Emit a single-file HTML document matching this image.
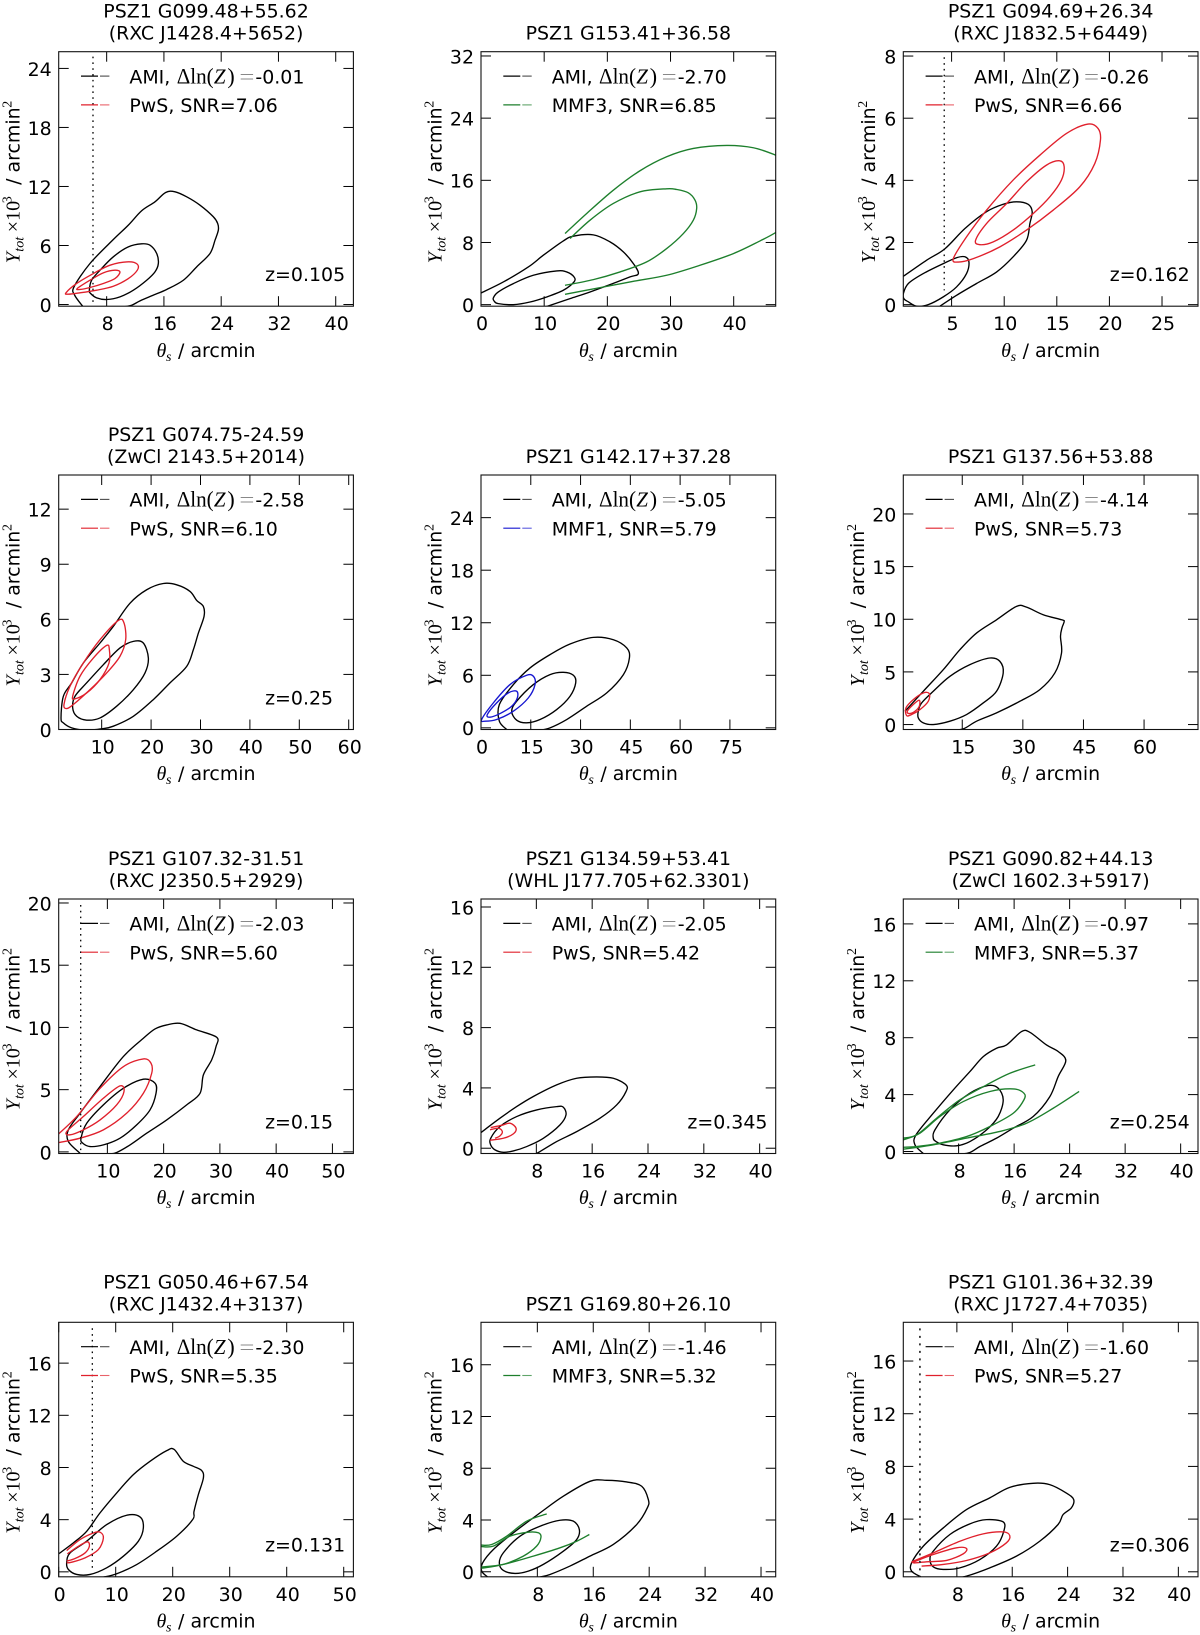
<!DOCTYPE html>
<html lang="en">
<head>
<meta charset="utf-8">
<title>PSZ1 cluster parameter constraints</title>
<style>
html,body{margin:0;padding:0;background:#fff}
svg{display:block}
text{font-family:"DejaVu Sans","Liberation Sans",sans-serif;fill:#000;font-size:18.95px}
.m{font-family:"Liberation Serif","DejaVu Serif",serif}
</style>
</head>
<body>
<svg id="figure" xmlns="http://www.w3.org/2000/svg" width="1200" height="1635" viewBox="0 0 1200 1635"></svg>
<script>
// ---- labels ----
const titles=["PSZ1 G099.48+55.62","PSZ1 G153.41+36.58","PSZ1 G094.69+26.34","PSZ1 G074.75-24.59","PSZ1 G142.17+37.28","PSZ1 G137.56+53.88","PSZ1 G107.32-31.51","PSZ1 G134.59+53.41","PSZ1 G090.82+44.13","PSZ1 G050.46+67.54","PSZ1 G169.80+26.10","PSZ1 G101.36+32.39"];
const subtitles=["(RXC J1428.4+5652)","","(RXC J1832.5+6449)","(ZwCl 2143.5+2014)","","","(RXC J2350.5+2929)","(WHL J177.705+62.3301)","(ZwCl 1602.3+5917)","(RXC J1432.4+3137)","","(RXC J1727.4+7035)"];
const evidence=["-0.01","-2.70","-0.26","-2.58","-5.05","-4.14","-2.03","-2.05","-0.97","-2.30","-1.46","-1.60"];
const methods=["PwS","MMF3","PwS","PwS","MMF1","PwS","PwS","PwS","MMF3","PwS","MMF3","PwS"];
const snr=["7.06","6.85","6.66","6.10","5.79","5.73","5.60","5.42","5.37","5.35","5.32","5.27"];
const redshifts=["0.105","","0.162","0.25","","","0.15","0.345","0.254","0.131","","0.306"];
// ---- axis domains and ticks ----
const xDomains=[[1.3,42.47],[0,46.65],[0.41,28.42],[1.3,60.95],[0,88.8],[0.41,73.35],[1.35,53.73],[0.07,42.3],[0.03,42.5],[0,51.7],[-0.06,42.1],[0.26,42.84]];
const yDomains=[[-0.17,25.7],[-0.2,32.55],[-0.05,8.14],[0,13.86],[-0.19,28.87],[-0.47,23.7],[-0.13,20.32],[-0.35,16.53],[-0.14,17.75],[-0.38,19.13],[-0.39,19.28],[-0.38,18.94]];
const xTicks=[[8,16,24,32,40],[0,10,20,30,40],[5,10,15,20,25],[10,20,30,40,50,60],[0,15,30,45,60,75],[15,30,45,60],[10,20,30,40,50],[8,16,24,32,40],[8,16,24,32,40],[0,10,20,30,40,50],[8,16,24,32,40],[8,16,24,32,40]];
const yTicks=[[0,6,12,18,24],[0,8,16,24,32],[0,2,4,6,8],[0,3,6,9,12],[0,6,12,18,24],[0,5,10,15,20],[0,5,10,15,20],[0,4,8,12,16],[0,4,8,12,16],[0,4,8,12,16],[0,4,8,12,16],[0,4,8,12,16]];
// ---- dotted reference lines: theta value, top, bottom (null = none) ----
const dotTheta=[6.09,null,4.3,null,null,null,5.26,null,null,5.9,null,2.66];
const dotTop=[25.2,null,7.96,null,null,null,19.84,null,null,18.67,null,18.48];
const dotBottom=[-0.17,null,0.46,null,null,null,-0.13,null,null,0.05,null,-0.38];
// ---- contours [theta, Y] ----
const p1AmiOuter=[[4.65,-0.17],[3.53,0.95],[3.44,1.8],[5.67,4.17],[8.93,6.61],[11.03,8.07],[12.89,9.53],[14.75,10.44],[16.24,11.39],[17.55,11.46],[19.18,10.95],[21.04,10.1],[22.9,8.92],[23.51,8.24],[23.6,7.56],[23.14,6.54],[22.44,5.19],[20.58,3.83],[18.71,2.47],[16.38,1.53],[14.52,0.95],[12.66,0.37],[11.49,-0.07],[10.33,-0.24]];
const p1AmiInner=[[5.58,1.46],[5.9,2.47],[7.07,3.49],[8.93,4.85],[11.03,5.86],[12.89,6.17],[14.05,6.03],[14.99,5.19],[15.22,4.17],[14.75,3.32],[13.59,2.47],[11.73,1.46],[9.86,0.78],[8,0.51],[6.6,0.68],[5.76,1.12]];
const p1SzOuter=[[2.32,1.19],[3.81,2.14],[6.14,3.15],[8.47,4],[11.03,4.34],[12.28,4.1],[12.28,3.49],[11.03,2.64],[8.93,1.86],[6.6,1.46],[4.27,1.19],[2.64,1.05]];
const p1SzInner=[[3.9,1.63],[5.67,2.47],[7.53,3.22],[9.16,3.49],[9.86,3.29],[9.16,2.64],[7.53,2.14],[5.67,1.73],[4.27,1.53]];
const p2AmiOuter=[[0,1.5],[3.54,2.92],[7.49,4.85],[9.87,6.36],[13.03,8.2],[14.62,8.81],[17.78,8.98],[20.42,8.08],[22.53,6.79],[24.12,5.28],[24.91,3.99],[23.59,3.57],[20.42,2.58],[17.26,1.63],[14.09,0.77],[10.92,-0.09],[9.34,-0.52]];
const p2AmiInner=[[1.95,0.86],[2.74,1.63],[5.12,2.71],[8.28,3.78],[11.98,4.34],[13.56,4.21],[14.72,3.57],[14.72,2.92],[13.03,1.85],[10.4,0.99],[7.76,0.34],[5.12,0],[2.74,0.13],[2.11,0.43]];
const p2SzOuterTop=[[13.3,9.15],[16.73,11.73],[20.95,14.73],[25.17,17.23],[29.39,19.03],[33.61,20.1],[38.89,20.49],[43.11,20.19],[46.65,19.24],[47.86,18.69]];
const p2SzOuterLow=[[13.3,1.33],[18.84,2.19],[24.12,3],[29.39,3.78],[34.67,5.07],[39.95,6.57],[44.17,8.2],[46.65,9.28],[47.86,10.01]];
const p2SzInner=[[14.09,8.51],[17.26,10.87],[20.95,13.02],[25.17,14.52],[29.39,14.91],[30.98,14.82],[32.82,14.39],[33.88,13.45],[34.14,12.37],[33.61,10.87],[32.03,9.15],[29.39,7.22],[26.23,5.5],[22.01,4.21],[17.78,3.22],[13.3,2.49]];
const p3AmiOuter=[[0.41,0.91],[2.63,1.43],[4.37,1.8],[6.27,2.45],[8.32,2.99],[9.91,3.23],[11.17,3.31],[12.28,3.23],[12.66,2.99],[12.44,2.61],[12.12,2.07],[10.85,1.54],[9.27,1.05],[7.37,0.68],[5.47,0.3],[3.89,-0.05]];
const p3AmiInner=[[0.41,0.35],[0.89,0.68],[2.31,1],[4.21,1.32],[5.47,1.51],[6.27,1.54],[6.65,1.37],[6.42,1],[5.47,0.57],[4.21,0.25],[2.78,0],[1.68,-0.05],[0.89,0.09],[0.47,0.19]];
const p3SzOuter=[[5.16,1.48],[6.42,2.18],[8.32,3.04],[10.85,4.01],[13.39,4.81],[15.92,5.51],[17.97,5.81],[18.92,5.67],[19.15,5.3],[18.61,4.54],[17.18,3.79],[14.65,3.04],[12.12,2.4],[9.59,1.86],[7.06,1.48],[5.63,1.37]];
const p3SzInner=[[7.28,2.07],[8.32,2.61],[10.22,3.25],[12.12,3.95],[14.02,4.49],[15.28,4.63],[15.7,4.44],[15.44,4.01],[14.34,3.47],[12.75,2.93],[10.85,2.4],[8.96,2.02],[7.69,1.93]];
const p4AmiOuter=[[1.77,0.63],[2.24,1.81],[3.93,2.54],[6.29,3.62],[9.66,4.71],[12.36,5.62],[15.74,6.88],[19.11,7.61],[22.48,7.95],[25.18,7.88],[27.88,7.52],[29.23,7.03],[30.58,6.7],[30.72,6.16],[29.57,5.25],[28.56,4.35],[27.21,3.44],[23.83,2.54],[20.46,1.63],[16.41,0.72],[12.36,0.18],[10,0.04],[6.96,-0.04],[3.93,0.09],[2.24,0.36]];
const p4AmiInner=[[4.13,1.18],[4.6,1.81],[6.96,2.54],[10.34,3.53],[13.71,4.44],[16.41,4.8],[18.43,4.71],[19.45,3.89],[18.77,3.08],[16.41,2.17],[13.04,1.27],[9.66,0.63],[6.96,0.51],[4.94,0.72]];
const p4SzOuter=[[2.37,1.36],[3.59,2.36],[6.29,3.62],[9.66,4.89],[13.37,5.94],[14.52,5.8],[14.86,4.89],[13.71,3.99],[11.01,3.08],[7.64,2.17],[4.26,1.36],[2.91,1.14]];
const p4SzInner=[[4.13,1.81],[5.61,2.9],[8.31,3.89],[11.01,4.58],[11.55,4.35],[11.48,3.62],[9.66,2.72],[6.96,1.99],[4.6,1.67]];
const p5AmiOuter=[[7.74,-0.19],[5.53,0.76],[5.53,2.66],[9.75,4.94],[14.77,6.84],[20.8,8.36],[26.83,9.57],[33.87,10.33],[39.9,10.06],[43.92,9.12],[44.72,7.98],[42.91,6.08],[37.89,3.99],[31.86,2.47],[25.83,0.95],[20.8,0],[17.79,-0.27]];
const p5AmiInner=[[9.25,1.9],[10.75,3.04],[15.78,4.94],[20.8,6.08],[24.82,6.34],[27.84,6],[28.54,5.13],[26.83,3.61],[22.81,2.09],[17.79,0.95],[13.77,0.57],[10.75,0.87]];
const p5SzOuter=[[0.2,0.95],[3.72,2.85],[8.74,4.94],[13.77,6],[15.78,5.89],[16.28,4.94],[14.27,3.42],[9.75,1.9],[4.72,0.95],[1.21,0.76]];
const p5SzInner=[[1.91,1.52],[4.72,2.85],[8.24,3.99],[10.75,4.18],[10.95,3.42],[9.25,2.47],[5.73,1.63],[2.71,1.22]];
const p6AmiOuter=[[0.82,1.26],[5.35,3.16],[10.3,5.21],[14.42,7.11],[18.54,8.69],[23.49,9.95],[28.44,11.22],[30.91,11.15],[35.03,10.43],[39.6,9.95],[40.23,9.79],[39.7,9.2],[39.32,8.37],[39.57,6.79],[37.92,4.9],[34.21,3.32],[29.26,2.21],[23.49,1.11],[18.54,0.32],[15.25,-0.41],[11.95,-0.54]];
const p6AmiInner=[[4.12,1.26],[4.94,2.05],[7.83,3.16],[11.95,4.58],[16.9,5.69],[21.84,6.32],[24.32,6],[25.14,4.9],[23.49,3.16],[20.19,2.05],[16.07,0.95],[11.95,0.32],[7.83,0],[5.35,0.16],[4.12,0.63]];
const p6SzOuter=[[1.07,1.58],[2.88,2.37],[5.35,3],[6.84,2.94],[6.59,2.21],[4.53,1.42],[2.47,0.95],[1.23,0.85]];
const p6SzInner=[[1.4,1.26],[2.88,1.9],[4.37,2.31],[4.37,1.74],[3.29,1.26],[1.89,1.04]];
const p7AmiOuter=[[5.14,-0.11],[3.07,0.83],[3.07,1.77],[5.14,3.11],[8.7,5.25],[12.84,7.66],[16.4,9.13],[18.47,9.88],[20.55,10.2],[22.91,10.33],[25.88,9.8],[29.43,9.21],[29.31,8.46],[28.54,7.39],[27.06,6.18],[26.47,4.71],[24.1,3.78],[20.55,2.57],[16.99,1.5],[14.03,0.56],[11.66,-0.05],[10.47,-0.16]];
const p7AmiInner=[[5.32,1.1],[6.33,2.3],[9.29,3.78],[12.84,5.11],[16.4,5.84],[18.47,5.52],[18.65,4.71],[17.58,3.37],[15.21,2.17],[12.25,1.1],[9.29,0.56],[6.92,0.43],[5.62,0.7]];
const p7SzOuter=[[1.35,1.45],[4.55,2.84],[8.7,5.11],[12.84,6.85],[16.4,7.47],[17.76,7.12],[17.88,6.32],[16.4,4.71],[13.44,3.11],[9.29,1.77],[5.14,1.1],[1.35,0.75]];
const p7SzInner=[[2.77,1.63],[5.73,2.84],[9.29,4.31],[12.25,5.3],[12.96,4.85],[11.66,3.78],[8.7,2.57],[5.73,1.77],[3.36,1.37]];
const p8AmiOuter=[[0.07,1.04],[2.79,1.99],[5.18,2.76],[7.57,3.43],[10.91,4.2],[13.78,4.64],[16.64,4.73],[19.03,4.64],[20.85,4.2],[20.85,3.76],[19.51,2.87],[17.12,1.99],[13.78,1.1],[10.91,0.44],[8.53,-0.22],[7.57,-0.44]];
const p8AmiInner=[[1.46,0.66],[2.79,1.44],[5.18,2.1],[8.05,2.54],[10.91,2.76],[11.87,2.72],[12.25,2.21],[11.39,1.55],[9,0.66],[6.62,0.11],[4.7,-0.18],[3.27,-0.27],[2.08,-0.11],[1.46,0.22]];
const p8SzOuter=[[1.46,1.37],[3.03,1.52],[4.23,1.66],[5.09,1.33],[4.7,0.95],[3.27,0.66],[1.36,0.53]];
const p8SzInner=[[1.36,1.22],[2.56,1.33],[3.13,1.1],[2.79,0.82],[2.08,0.66]];
const p9AmiOuter=[[2.91,-0.14],[1.71,0.47],[1.86,1.17],[4.35,2.69],[7.23,4.33],[9.63,5.62],[11.55,6.67],[13.47,7.26],[14.91,7.49],[17.07,8.43],[18.27,8.38],[20.67,7.49],[22.35,7.03],[23.45,6.39],[22.35,5.27],[21.15,3.86],[18.75,2.46],[15.87,1.64],[13.47,0.94],[11.07,0.35],[9.63,-0.07],[8.19,-0.19]];
const p9AmiInner=[[4.35,0.94],[4.59,1.52],[6.75,2.93],[9.63,4.1],[12.27,4.64],[13.71,4.45],[14.43,3.63],[13.71,2.46],[12.03,1.52],[9.63,0.7],[7.71,0.4],[5.79,0.47],[4.74,0.7]];
const p9SzOuterTop=[[0.03,0.94],[1.95,1.17],[4.83,2.34],[8.19,3.63],[12.03,4.68],[15.39,5.5],[19.04,6.09]];
const p9SzOuterLow=[[0.03,0.16],[4.35,0.47],[9.15,0.94],[13.95,1.41],[17.79,1.99],[21.63,3.04],[25.37,4.22]];
const p9SzInner=[[0.03,0.82],[2.43,1.29],[5.31,2.46],[8.67,3.51],[12.51,4.22],[15.87,4.4],[17.41,4.1],[17.41,3.63],[15.87,2.69],[12.51,1.76],[9.15,1.05],[5.31,0.59],[1.95,0.35],[0.03,0.3]];
const p10AmiOuter=[[0,1.38],[2.57,2.22],[4.91,3.11],[7.25,4.52],[10.18,6.05],[13.1,7.45],[16.02,8.47],[18.95,9.29],[20.23,9.39],[21.87,8.47],[23.63,8.09],[25.09,7.76],[25.38,7.19],[24.5,5.92],[23.74,4.64],[23.51,4.01],[20.7,2.73],[17.19,1.58],[13.68,0.56],[10.18,-0.15],[7.84,-0.41]];
const p10AmiInner=[[1.4,0.69],[1.99,1.45],[4.91,2.35],[8.42,3.62],[11.93,4.34],[14.27,4.21],[14.85,3.37],[13.98,2.35],[11.35,1.2],[8.42,0.31],[5.5,-0.2],[3.16,-0.2],[1.7,0.18]];
const p10SzOuter=[[1.4,1.63],[3.74,2.47],[6.08,2.98],[7.25,3.04],[7.84,2.6],[6.96,1.71],[4.62,1.07],[2.28,0.74],[1.4,0.69]];
const p10SzInner=[[1.52,1.38],[3.45,1.96],[5.03,2.3],[5.38,1.96],[4.62,1.45],[2.87,1.02],[1.4,0.82]];
const p11AmiOuter=[[0.85,-0.39],[0.04,0.05],[0.18,0.69],[1.71,1.72],[4.57,3.01],[8.38,4.55],[11.72,5.84],[15.53,6.99],[17.92,7.07],[20.78,6.94],[22.93,6.61],[23.88,5.58],[23.74,4.94],[22.21,3.65],[18.87,2.11],[15.53,1.21],[12.67,0.44],[9.81,-0.21],[8.38,-0.41]];
const p11AmiInner=[[2.56,0.69],[3.14,1.47],[5.52,2.75],[8.38,3.52],[11.24,3.98],[13.15,3.91],[14.01,3.26],[13.63,2.49],[11.72,1.59],[8.86,0.57],[6.71,0.05],[4.8,-0.13],[3.14,0.1]];
const p11SzOuterTop=[[-0.06,2.06],[1.47,2.11],[3.61,2.75],[6.47,3.91],[9.34,4.47]];
const p11SzOuterLow=[[-0.06,0.36],[3.14,0.57],[7.43,1.21],[11.24,1.85],[13.63,2.36],[15.44,2.88]];
const p11SzInner=[[-0.06,1.95],[1.71,1.98],[4.09,2.75],[6.71,3.06],[8.14,3.01],[8.52,2.67],[7.9,1.98],[6,1.21],[3.14,0.57],[-0.06,0.26]];
const p12AmiOuter=[[2.76,-0.38],[1.46,0.05],[1.46,0.68],[3.14,1.94],[6.03,3.33],[9.39,4.72],[12.76,5.61],[15.64,6.41],[19.01,6.72],[21.41,6.62],[23.82,5.98],[24.88,5.48],[24.54,4.85],[23.34,4.34],[22.62,3.59],[19.97,2.32],[16.61,1.19],[12.76,0.3],[9.39,-0.33],[7.95,-0.45]];
const p12AmiInner=[[4.11,0.93],[4.59,1.57],[6.99,2.83],[9.88,3.64],[12.28,3.96],[14.68,3.79],[14.78,3.08],[13.72,1.94],[11.32,0.93],[8.43,0.3],[6.03,0.18],[4.59,0.38]];
const p12SzOuter=[[2.9,0.43],[6.03,0.56],[9.39,0.86],[12.76,1.44],[15.16,2.2],[15.64,2.75],[14.68,3.03],[11.8,2.88],[8.43,2.32],[4.59,1.44],[1.46,0.76]];
const p12SzInner=[[1.46,0.68],[4.59,1.31],[7.95,1.82],[9.39,1.77],[8.91,1.36],[6.51,0.86],[3.63,0.76],[1.7,0.66]];
// contour lists: [points, series, closed]
const panelCurves=[
[[p1AmiOuter,'ami',0],[p1AmiInner,'ami',1],[p1SzOuter,'sz',1],[p1SzInner,'sz',1]],
[[p2AmiOuter,'ami',0],[p2AmiInner,'ami',1],[p2SzOuterTop,'sz',0],[p2SzOuterLow,'sz',0],[p2SzInner,'sz',0]],
[[p3AmiOuter,'ami',0],[p3AmiInner,'ami',1],[p3SzOuter,'sz',1],[p3SzInner,'sz',1]],
[[p4AmiOuter,'ami',1],[p4AmiInner,'ami',1],[p4SzOuter,'sz',1],[p4SzInner,'sz',1]],
[[p5AmiOuter,'ami',0],[p5AmiInner,'ami',1],[p5SzOuter,'sz',1],[p5SzInner,'sz',1]],
[[p6AmiOuter,'ami',0],[p6AmiInner,'ami',1],[p6SzOuter,'sz',1],[p6SzInner,'sz',1]],
[[p7AmiOuter,'ami',0],[p7AmiInner,'ami',1],[p7SzOuter,'sz',0],[p7SzInner,'sz',1]],
[[p8AmiOuter,'ami',0],[p8AmiInner,'ami',1],[p8SzOuter,'sz',0],[p8SzInner,'sz',0]],
[[p9AmiOuter,'ami',0],[p9AmiInner,'ami',1],[p9SzOuterTop,'sz',0],[p9SzOuterLow,'sz',0],[p9SzInner,'sz',0]],
[[p10AmiOuter,'ami',0],[p10AmiInner,'ami',1],[p10SzOuter,'sz',0],[p10SzInner,'sz',0]],
[[p11AmiOuter,'ami',0],[p11AmiInner,'ami',1],[p11SzOuterTop,'sz',0],[p11SzOuterLow,'sz',0],[p11SzInner,'sz',0]],
[[p12AmiOuter,'ami',0],[p12AmiInner,'ami',1],[p12SzOuter,'sz',0],[p12SzInner,'sz',0]]
];
// ---- layout and styles (not data) ----
const columnLeft=[58.7,481,903.3],rowTop=[51.7,475,899,1322.3];
const plotW=294.7,plotH=254.5;
const methodColor={PwS:'#e0202c',MMF3:'#1d7f2c',MMF1:'#1616d0'};
const NS='http://www.w3.org/2000/svg';
const root=document.getElementById('figure');
function mk(parent,tag,attrs){
  const el=document.createElementNS(NS,tag);
  for(const k in attrs)el.setAttribute(k,attrs[k]);
  parent.appendChild(el);
  return el;
}
function txt(parent,x,y,s,attrs){
  const el=mk(parent,'text',Object.assign({x:x,y:y},attrs||{}));
  el.textContent=s;
  return el;
}
function smoothPath(p,closed){
  const n=p.length;
  const at=i=>closed?p[(i+n)%n]:p[Math.max(0,Math.min(n-1,i))];
  let d='M'+p[0][0].toFixed(2)+' '+p[0][1].toFixed(2);
  const end=closed?n:n-1;
  for(let i=0;i<end;i++){
    const a=at(i-1),b=at(i),c=at(i+1),e=at(i+2);
    d+='C'+(b[0]+(c[0]-a[0])/6).toFixed(2)+' '+(b[1]+(c[1]-a[1])/6).toFixed(2)+' '+(c[0]-(e[0]-b[0])/6).toFixed(2)+' '+(c[1]-(e[1]-b[1])/6).toFixed(2)+' '+c[0].toFixed(2)+' '+c[1].toFixed(2);
  }
  return d+(closed?'Z':'');
}
const defs=mk(root,'defs',{});
titles.forEach(function(title,i){
  const left=columnLeft[i%3],top=rowTop[Math.floor(i/3)];
  const right=left+plotW,bottom=top+plotH;
  const xd=xDomains[i],yd=yDomains[i];
  const sx=v=>left+(v-xd[0])/(xd[1]-xd[0])*plotW;
  const sy=v=>bottom-(v-yd[0])/(yd[1]-yd[0])*plotH;
  const color=methodColor[methods[i]];
  const cx=left+plotW/2;

  const panel=mk(root,'g',{});
  
  

  const clip=mk(defs,'clipPath',{id:'clip'+i});
  mk(clip,'rect',{x:left,y:top,width:plotW,height:plotH});

  if(subtitles[i]){
    const t1=txt(panel,cx,top-34,title,{'text-anchor':'middle'});
    
    
    const t2=txt(panel,cx,top-12,subtitles[i],{'text-anchor':'middle'});
    
    
  }else{
    const t1=txt(panel,cx,top-12,title,{'text-anchor':'middle'});
    
    
  }

  const curves=mk(panel,'g',{'clip-path':'url(#clip'+i+')',fill:'none','stroke-width':1.35});
  
  
  panelCurves[i].forEach(function(c){
    const pts=c[0].map(function(q){return [sx(q[0]),sy(q[1])];});
    const path=mk(curves,'path',{d:smoothPath(pts,!!c[2]),stroke:c[1]==='ami'?'#000':color});
    
    
  });

  if(dotTheta[i]!==null){
    const dot=mk(panel,'line',{x1:sx(dotTheta[i]),x2:sx(dotTheta[i]),y1:sy(dotTop[i]),y2:sy(dotBottom[i]),stroke:i===11?'#333':'#000','stroke-width':i===11?1.8:1.3,'stroke-dasharray':i===11?'2 5.5':'1.6 4.2'});
    
    
  }

  xTicks[i].forEach(function(v){
    const x=sx(v);
    const tb=mk(panel,'line',{x1:x,x2:x,y1:bottom,y2:bottom-10,stroke:'#000','stroke-width':1});
    
    
    const tt=mk(panel,'line',{x1:x,x2:x,y1:top,y2:top+10,stroke:'#000','stroke-width':1});
    
    
    const l=txt(panel,x+1,bottom+24,String(v),{'text-anchor':'middle'});
    
    
  });
  yTicks[i].forEach(function(v){
    const y=sy(v);
    const tl=mk(panel,'line',{x1:left,x2:left+10,y1:y,y2:y,stroke:'#000','stroke-width':1});
    
    
    const tr=mk(panel,'line',{x1:right,x2:right-10,y1:y,y2:y,stroke:'#000','stroke-width':1});
    
    
    const l=txt(panel,left-7,y+7.4,String(v),{'text-anchor':'end'});
    
    
  });

  const frame=mk(panel,'rect',{x:left,y:top,width:plotW,height:plotH,fill:'none',stroke:'#111','stroke-width':1.1});
  
  

  // legend
  const lg=mk(panel,'g',{});
  
  
  const lx=left+22.3,tx=left+70.7;
  const e1=mk(lg,'g',{});
  
  
  mk(e1,'line',{x1:lx,x2:lx+17,y1:top+24.4,y2:top+24.4,stroke:'#000','stroke-width':1.2});
  mk(e1,'line',{x1:lx+19,x2:lx+28.4,y1:top+24.4,y2:top+24.4,stroke:'#000','stroke-width':1.1,opacity:.7});
  txt(e1,tx,top+31.6,'AMI,',{});
  txt(e1,tx+47.3,top+31.6,'\u0394ln(',{class:'m','textLength':'37','lengthAdjust':'spacingAndGlyphs','style':'font-size:22px'});
  txt(e1,tx+84.5,top+31.6,'Z',{class:'m','style':'font-size:21px;font-style:italic'});
  txt(e1,tx+98,top+31.6,')',{class:'m','style':'font-size:22px'});
  txt(e1,tx+110,top+31.6,'=',{class:'m','textLength':'15','lengthAdjust':'spacingAndGlyphs','style':'font-size:21px;fill:#888'});
  txt(e1,tx+126,top+31.6,evidence[i],{});
  const e2=mk(lg,'g',{});
  
  
  mk(e2,'line',{x1:lx,x2:lx+17,y1:top+53.2,y2:top+53.2,stroke:color,'stroke-width':1.2});
  mk(e2,'line',{x1:lx+19,x2:lx+28.4,y1:top+53.2,y2:top+53.2,stroke:color,'stroke-width':1.1,opacity:.7});
  txt(e2,tx,top+60.4,methods[i]+', SNR='+snr[i],{});

  if(redshifts[i]){
    const z=txt(panel,left+206.4,bottom-25.2,'z='+redshifts[i],{});
    
    
  }

  // x axis title
  const xt=mk(panel,'g',{});
  
  
  const xb=bottom+50.7,xs=cx-49.5;
  txt(xt,xs,xb,'\u03B8',{class:'m','style':'font-size:20px;font-style:italic'});
  txt(xt,xs+9.5,xb+4,'s',{class:'m','style':'font-size:14px;font-style:italic'});
  txt(xt,xs+21.5,xb,'/ arcmin',{});

  // y axis title
  const yb=(i===2)?left-28.2:left-39.3;
  const yt=mk(panel,'g',{transform:'translate('+yb+' '+(bottom-43)+') rotate(-90)'});
  
  
  txt(yt,0,0,'Y',{class:'m','style':'font-size:20px;font-style:italic'});
  txt(yt,11.5,4,'tot',{class:'m','style':'font-size:14px;font-style:italic'});
  txt(yt,31,0,'\u00D710',{class:'m','style':'font-size:20px'});
  txt(yt,60,-8,'3',{class:'m','style':'font-size:14px'});
  txt(yt,78.3,0,'/ arcmin',{});
  txt(yt,155.5,-8,'2',{class:'m','style':'font-size:14px'});
});
</script>
</body>
</html>
